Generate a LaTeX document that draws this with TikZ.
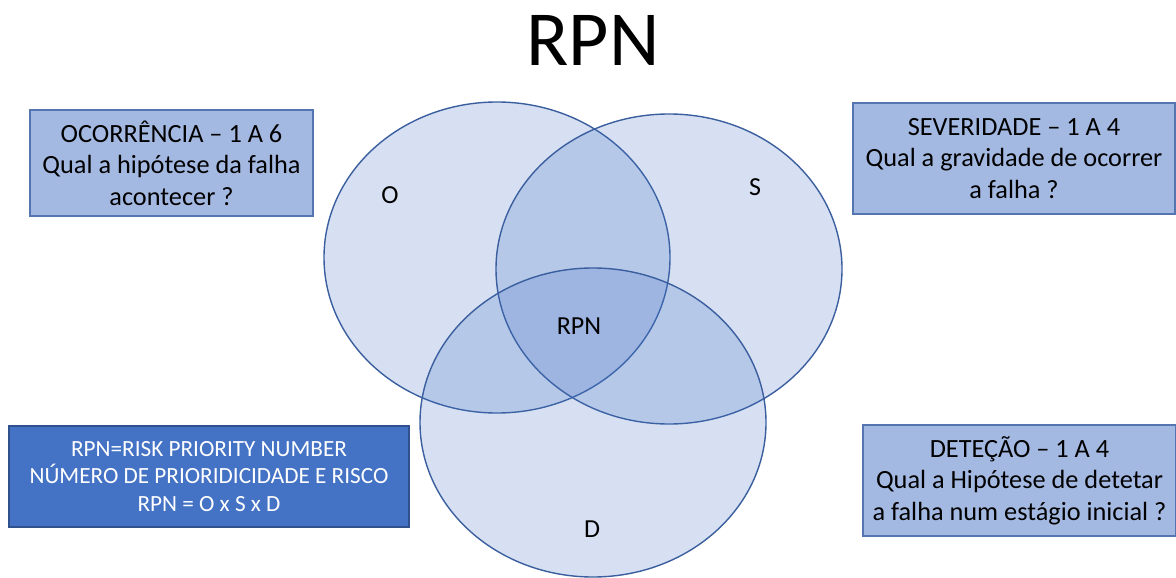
\documentclass[tikz,border=0pt]{standalone}
\usepackage{fontspec}
\setmainfont{Carlito}
\definecolor{setblue}{HTML}{4472C4}
\definecolor{setedge}{HTML}{3A5E9E}
\definecolor{boxfill}{HTML}{A4B9E2}
\definecolor{boxedge}{HTML}{5575B0}
\definecolor{darkedge}{HTML}{2F528F}
\tikzset{
  setshape/.style={fill=setblue, fill opacity=0.22, draw=setedge, draw opacity=1, line width=1.4pt},
  setlabel/.style={font=\fontsize{26}{30}\selectfont, text=black},
  infobox/.style={draw=boxedge, fill=boxfill, line width=1.2pt, align=center,
    font=\fontsize{26.3}{31.5}\selectfont, inner sep=0pt},
  formulabox/.style={draw=darkedge, fill=setblue, line width=1.2pt, align=center,
    font=\fontsize{23.2}{27.5}\selectfont, text=white, inner sep=0pt}
}
\begin{document}
\begin{tikzpicture}[x=1pt,y=-1pt]
\useasboundingbox (0,0) rectangle (1176,578);

% title
\node[font=\fontsize{78}{82}\selectfont] (title) at (593,40) {RPN};

% three overlapping sets
\draw[setshape] (497,257.5) ellipse [x radius=173, y radius=155.5];
\draw[setshape] (669,269) ellipse [x radius=173, y radius=155];
\draw[setshape] (593,422.5) ellipse [x radius=173, y radius=154.5];

\node[setlabel] (lo) at (390,195) {O};
\node[setlabel] (ls) at (755,187) {S};
\node[setlabel] (lrpn) at (579,326) {RPN};
\node[setlabel] (ld) at (592,529) {D};

% factor boxes
\node[infobox, minimum width=283, minimum height=106] (bo) at (171.5,163)
  {OCORRÊNCIA – 1 A 6\\Qual a hipótese da falha\\acontecer ?};
\node[infobox, minimum width=322, minimum height=111] (bs) at (1014,158.5)
  {SEVERIDADE – 1 A 4\\Qual a gravidade de ocorrer\\a falha ?};
\node[infobox, minimum width=313, minimum height=111] (bd) at (1019.5,480.5)
  {DETEÇÃO – 1 A 4\\Qual a Hipótese de detetar\\a falha num estágio inicial ?};

% definition box
\node[formulabox, minimum width=400, minimum height=101] (brpn) at (209,476.5)
  {RPN=RISK PRIORITY NUMBER\\NÚMERO DE PRIORIDICIDADE E RISCO\\RPN = O x S x D};
\end{tikzpicture}
\end{document}
